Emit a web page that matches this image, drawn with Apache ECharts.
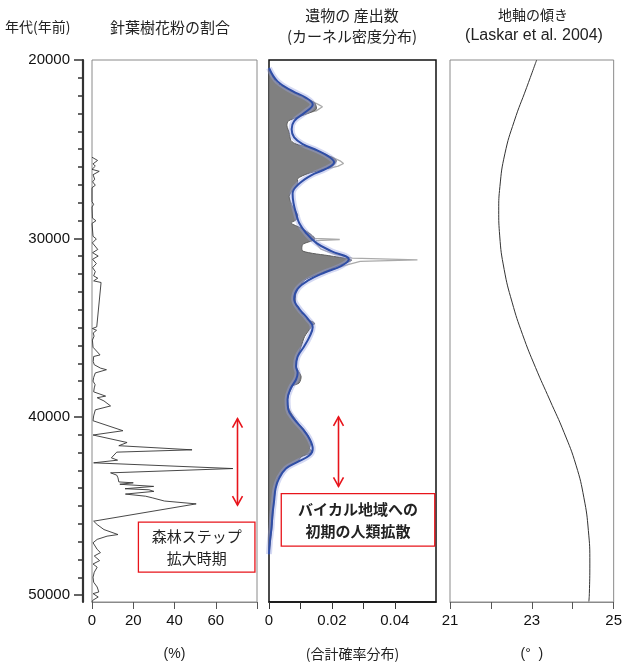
<!DOCTYPE html>
<html><head><meta charset="utf-8">
<script src="https://cdn.jsdelivr.net/npm/echarts@6/dist/echarts.min.js"></script>
<style>html,body{margin:0;padding:0;background:#fff}#c{width:625px;height:666px}</style>
</head><body><div id="c"></div>
<script>
// ---- axis ticks ----
const ageLabels = [20000, 30000, 40000, 50000];
const ageMinor = [20000,21000,22000,23000,24000,25000,26000,27000,28000,29000,30000,31000,32000,33000,34000,35000,36000,37000,38000,39000,40000,41000,42000,43000,44000,45000,46000,47000,48000,49000,50000];
const pollenTicks = [0, 20, 40, 60, 80];
const pollenLabels = [0, 20, 40, 60];
const densTicks = [0, 0.01, 0.02, 0.03, 0.04];
const densLabels = [0, 0.02, 0.04];
const oblTicks = [21, 22, 23, 24, 25];
const oblLabels = [21, 23, 25];

// ---- conifer pollen (%) ----
const pollenAge = [25450,25630,25820,25950,26130,26240,26430,26680,26830,27020,27160,27940,28090,28240,28860,29010,29160,29880,30030,30250,30620,30800,30990,31170,31410,31640,31860,32100,32230,32380,32470,34960,35050,35150,35300,35480,35700,36100,36530,36620,36900,37080,37270,37360,37540,37800,38000,38200,38380,38600,38840,38930,39110,39390,39610,39950,40220,40310,40780,41020,41440,41620,41850,41980,42300,42430,42580,42900,43140,43270,43420,43650,43700,43780,43900,44030,44090,44180,44330,44450,44540,44720,44880,45850,46040,46320,46600,46690,46870,47060,47430,47610,47800,48060,48250,48430,48710,48990,49270,49540,49820,49910,50100,50290,50380];
const pollenPct = [0,2.7,0.5,1.6,0,3.5,0.5,1.3,0.3,1.6,0,0,0.8,0,0.2,1.9,0,0.5,2.1,0.2,2.8,0.3,3.0,0.3,2.1,0.3,1.6,0.8,2.8,0.8,4.4,2.3,0.2,2.2,0.6,1.0,0.2,0.5,3.9,0.8,0.6,1.1,4.1,7.0,1.6,0.8,0.5,1.5,1.1,0.8,6.6,2.5,5.8,9.0,1.6,0.8,0.5,0,15.0,0.5,17.0,13.0,48.5,12.0,9.4,12.4,0.8,68.3,9.0,12.0,12.6,13.0,20.0,13.5,29.9,16.0,27.6,30.0,16.2,26.0,29.2,35.1,50.5,0.8,2.5,5.8,12.6,7.3,2.5,0.5,2.5,4.1,1.1,3.7,0.5,2.5,1.1,0.5,0.8,2.5,3.3,0.5,3.0,0.3,0];

// ---- artefact summed density (raw, grey area) ----
const rawAge = [20440,21200,21750,22120,22400,22770,23140,23420,23690,24060,24520,24710,24890,25260,25630,26000,26370,26650,26930,27290,27660,28220,28680,28960,29140,29420,29790,30060,30340,30710,30990,31210,31540,31910,32280,32560,33020,33760,34500,34750,35000,35510,36070,36620,37170,37730,38100,38280,39020,39580,40310,40870,41420,41790,41980,42250,42530,42720,43090,43460,44010,44750,45860,46960,47700];
const rawVal = [0,0.0021,0.0070,0.0113,0.0145,0.0150,0.0102,0.0061,0.0057,0.0064,0.0070,0.0086,0.0123,0.0177,0.0214,0.0198,0.0123,0.0091,0.0091,0.0075,0.0064,0.0075,0.0091,0.0086,0.0070,0.0102,0.0134,0.0145,0.0107,0.0107,0.0198,0.0263,0.0220,0.0171,0.0118,0.0102,0.0086,0.0086,0.0118,0.0145,0.0133,0.0113,0.0102,0.0091,0.0086,0.0102,0.0096,0.0075,0.0059,0.0064,0.0091,0.0118,0.0134,0.0129,0.0139,0.0102,0.0091,0.0064,0.0043,0.0027,0.0021,0.0016,0.0011,0.0005,0];

// ---- light grey outer envelope (spikes) ----
const lightAge = [22300,22500,22620,22720,22850,22950,null,25400,25650,25800,25950,26100,null,29850,30000,30060,30120,30300,30600,30900,31100,31200,31290,31500,31750];
const lightVal = [0.0135,0.0158,0.0170,0.0166,0.0150,0.0125,null,0.0195,0.0226,0.0237,0.0220,0.0185,null,0.0138,0.0146,0.0225,0.0150,0.0150,0.0165,0.0210,0.0265,0.0472,0.0290,0.0245,0.0200];

// ---- kernel density (blue) ----
const kdeAge = [20450,21200,21750,22120,22490,22960,23420,23880,24340,24710,25080,25450,25730,26090,26460,26930,27480,28030,28590,29140,29700,30250,30710,31170,31540,31910,32370,32830,33390,33940,34500,34960,35510,36070,36620,37170,37540,37910,38370,39020,39570,40130,40680,41240,41790,42160,42530,42900,43450,44010,44740,45480,46220,46960,47700];
const kdeVal = [0,0.0027,0.0075,0.0118,0.0139,0.0113,0.0080,0.0072,0.0080,0.0107,0.0155,0.0193,0.0207,0.0182,0.0134,0.0096,0.0075,0.0078,0.0086,0.0096,0.0118,0.0150,0.0198,0.0254,0.0230,0.0177,0.0123,0.0091,0.0080,0.0096,0.0123,0.0139,0.0129,0.0111,0.0091,0.0086,0.0091,0.0086,0.0070,0.0059,0.0061,0.0080,0.0107,0.0129,0.0139,0.0129,0.0091,0.0054,0.0032,0.0021,0.0016,0.0011,0.0008,0.0003,0];

// ---- obliquity (deg) ----
const oblAge = [20000,21550,23430,25260,27090,28420,29860,31740,33570,35400,37230,39060,40890,42710,44540,46370,48200,49900,50350];
const oblVal = [23.118,22.872,22.570,22.341,22.220,22.191,22.215,22.324,22.517,22.775,23.089,23.440,23.790,24.080,24.273,24.382,24.418,24.406,24.394];

const pair = (xs, ys) => xs.map((a, i) => a === null ? [null, null] : [ys[i], a]);

const SANS = '"Liberation Sans", Arial, sans-serif';
const JP = '"Noto Sans CJK JP", sans-serif';
const TXT = '#222';

const chart = echarts.init(document.getElementById('c'), null, {renderer: 'canvas'});

const gridTop = 60, gridH = 548;
const grids = [
  {left: 92, top: gridTop, width: 165, height: gridH, show: true, borderColor: '#8a8a8a', borderWidth: 1},
  {left: 269, top: gridTop, width: 167, height: gridH, show: true, borderColor: '#111', borderWidth: 1.5},
  {left: 450, top: gridTop, width: 166, height: gridH, show: true, borderColor: '#8a8a8a', borderWidth: 1}
];

function yHidden(g) {
  return {type: 'value', gridIndex: g, inverse: true, min: 20000, max: 50380, show: false, splitLine: {show: false}};
}

const nameStyle = {fontFamily: JP, fontSize: 14, color: TXT};
const labStyle = {fontFamily: SANS, fontSize: 15, color: '#111'};

const option = {
  animation: false,
  grid: grids,
  xAxis: [
    {type: 'value', gridIndex: 0, min: 0, max: 80, interval: 20,
      axisLine: {show: true, onZero: false, lineStyle: {color: '#8a8a8a'}},
      axisTick: {show: true, length: 7, customValues: pollenTicks, lineStyle: {color: '#555'}},
      axisLabel: Object.assign({margin: 11, customValues: pollenLabels}, labStyle),
      splitLine: {show: false},
      name: '(%)', nameLocation: 'middle', nameGap: 45, nameTextStyle: {fontFamily: SANS, fontSize: 14, color: TXT}},
    {type: 'value', gridIndex: 1, min: 0, max: 0.0531,
      axisLine: {show: true, onZero: false, lineStyle: {color: '#111', width: 1.5}},
      axisTick: {show: true, length: 7, customValues: densTicks, lineStyle: {color: '#333'}},
      axisLabel: Object.assign({margin: 11, customValues: densLabels, formatter: v => v === 0 ? '0' : String(+v.toFixed(2))}, labStyle),
      splitLine: {show: false},
      name: '(合計確率分布)', nameLocation: 'middle', nameGap: 45, nameTextStyle: nameStyle},
    {type: 'value', gridIndex: 2, min: 21, max: 25, interval: 1,
      axisLine: {show: true, onZero: false, lineStyle: {color: '#8a8a8a'}},
      axisTick: {show: true, length: 7, customValues: oblTicks, lineStyle: {color: '#555'}},
      axisLabel: Object.assign({margin: 11, customValues: oblLabels}, labStyle),
      splitLine: {show: false},
      name: '(°  )', nameLocation: 'middle', nameGap: 45, nameTextStyle: {fontFamily: SANS, fontSize: 14, color: TXT}}
  ],
  yAxis: [
    {type: 'value', gridIndex: 0, position: 'left', inverse: true, min: 20000, max: 50380, offset: 9,
      axisLine: {show: true, onZero: false, lineStyle: {color: '#333', width: 2.2}},
      axisTick: {show: true, length: 9, customValues: ageLabels, lineStyle: {color: '#333', width: 1.5}},
      axisLabel: Object.assign({margin: 13, customValues: ageLabels, formatter: v => String(v)}, labStyle),
      splitLine: {show: false}},
    yHidden(1),
    yHidden(2),
    {type: 'value', gridIndex: 0, position: 'left', inverse: true, min: 20000, max: 50380, offset: 9,
      axisLine: {show: false, onZero: false},
      axisTick: {show: true, length: 5, customValues: ageMinor, lineStyle: {color: '#333', width: 1.5}},
      axisLabel: {show: false},
      splitLine: {show: false}}
  ],
  series: [
    {type: 'line', xAxisIndex: 0, yAxisIndex: 0, data: pair(pollenAge, pollenPct), showSymbol: false,
      lineStyle: {color: '#333', width: 0.9}, z: 3, clip: true},
    {type: 'line', xAxisIndex: 1, yAxisIndex: 1, data: pair(lightAge, lightVal), showSymbol: false, connectNulls: false,
      lineStyle: {color: '#aaaaaa', width: 1.3}, z: 2},
    {type: 'custom', xAxisIndex: 1, yAxisIndex: 1, data: pair(rawAge, rawVal), z: 3, clip: true,
      renderItem: function (params, api) {
        if (params.dataIndex !== 0) return null;
        const pts = [api.coord([0, rawAge[0]])];
        for (let i = 0; i < rawAge.length; i++) pts.push(api.coord([rawVal[i], rawAge[i]]));
        pts.push(api.coord([0, rawAge[rawAge.length - 1]]));
        return {type: 'polygon', shape: {points: pts, smooth: 0.25},
          style: {fill: '#808080', stroke: '#5e5e5e', lineWidth: 1}};
      }},
    {type: 'line', xAxisIndex: 1, yAxisIndex: 1, data: pair(kdeAge, kdeVal), showSymbol: false, smooth: 0.4,
      lineStyle: {color: 'rgba(150,160,225,0.4)', width: 6}, z: 4},
    {type: 'line', xAxisIndex: 1, yAxisIndex: 1, data: pair(kdeAge, kdeVal), showSymbol: false, smooth: 0.4,
      lineStyle: {color: '#2f4ea6', width: 2}, z: 5},
    {type: 'line', xAxisIndex: 2, yAxisIndex: 2, data: pair(oblAge, oblVal), showSymbol: false, smooth: 0.5,
      lineStyle: {color: '#333', width: 1}, z: 3}
  ]
};
chart.setOption(option);

// ---- annotations & titles ----
const RED = '#e8141b';
function px(g, v) { return chart.convertToPixel({gridIndex: g}, v); }
function arrow(g, xv, a0, a1) {
  const p0 = px(g, [xv, a0]), p1 = px(g, [xv, a1]);
  const x = Math.round(p0[0]) + 0.5;
  const st = {stroke: RED, lineWidth: 1.6, fill: null};
  return [
    {type: 'line', shape: {x1: x, y1: p0[1], x2: x, y2: p1[1]}, style: st, z: 20},
    {type: 'polyline', shape: {points: [[x - 5, p0[1] + 9], [x, p0[1]], [x + 5, p0[1] + 9]]}, style: st, z: 20},
    {type: 'polyline', shape: {points: [[x - 5, p1[1] - 9], [x, p1[1]], [x + 5, p1[1] - 9]]}, style: st, z: 20}
  ];
}
function box(g, v0, a0, v1, a1, text, weight) {
  const p0 = px(g, [v0, a0]), p1 = px(g, [v1, a1]);
  return [
    {type: 'rect', shape: {x: p0[0], y: p0[1], width: p1[0] - p0[0], height: p1[1] - p0[1]},
      style: {fill: '#fff', stroke: RED, lineWidth: 1.3}, z: 20},
    {type: 'text', x: (p0[0] + p1[0]) / 2, y: (p0[1] + p1[1]) / 2,
      style: {text: text, fontFamily: JP, fontSize: 15, fontWeight: weight, fill: TXT, align: 'center', verticalAlign: 'middle', lineHeight: 22}, z: 21}
  ];
}
function label(x, y, text, font, size, align) {
  return {type: 'text', x: x, y: y, style: {text: text, fontFamily: font, fontSize: size, fill: TXT, align: align || 'center', verticalAlign: 'middle'}};
}
const graphics = [].concat(
  arrow(0, 70.5, 40100, 44950),
  box(0, 22.5, 45900, 79, 48700, '森林ステップ\n拡大時期', 'normal'),
  arrow(1, 0.0219, 40000, 43900),
  box(1, 0.0039, 44300, 0.0527, 47250, 'バイカル地域への\n初期の人類拡散', 'bold'),
  [
    label(5, 27, '年代(年前)', JP, 14, 'left'),
    label(110, 27, '針葉樹花粉の割合', JP, 15, 'left'),
    label(352, 15, '遺物の 産出数', JP, 15),
    label(352, 36, '(カーネル密度分布)', JP, 15),
    label(533, 15, '地軸の傾き', JP, 14),
    label(534, 36, '(Laskar et al. 2004)', SANS, 16)
  ]
);
chart.setOption({graphic: graphics});
</script></body></html>
